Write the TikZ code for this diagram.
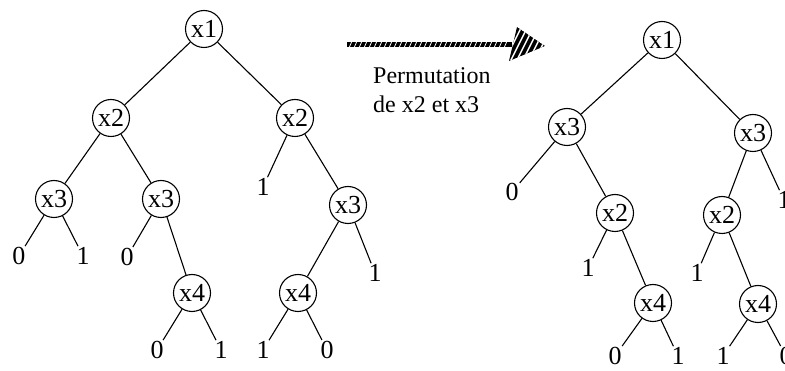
\documentclass[tikz,border=0pt]{standalone}
\usepackage{fontspec}
\setmainfont{Liberation Serif}
\begin{document}
\begin{tikzpicture}[x=1pt,y=-1pt,
  every node/.style={font=\fontsize{26}{30}\selectfont},
  var/.style={circle,draw,line width=1.1pt,inner sep=0pt,minimum size=37pt},
  leaf/.style={inner sep=1pt},
  edge/.style={line width=1.1pt},
  lbl/.style={anchor=west,inner sep=0pt,font=\fontsize{24}{28}\selectfont}]
\useasboundingbox (0,0) rectangle (785,371);
% left tree
\node[var] (L1) at (204,29) {x1};
\node[var] (La2) at (111,118) {x2};
\node[var] (Lb2) at (295,118) {x2};
\node[var] (La3) at (54,199) {x3};
\node[var] (Lc3) at (161,199) {x3};
\node[var] (Lb3) at (348,205) {x3};
\node[var] (La4) at (192,293) {x4};
\node[var] (Lb4) at (298,293) {x4};
\node[leaf] (l1) at (19,256) {0};
\node[leaf] (l2) at (83,256) {1};
\node[leaf] (l3) at (127,257) {0};
\node[leaf] (l4) at (157,350) {0};
\node[leaf] (l5) at (221,350) {1};
\node[leaf] (l6) at (263,187) {1};
\node[leaf] (l7) at (375,273) {1};
\node[leaf] (l8) at (263,350) {1};
\node[leaf] (l9) at (327,350) {0};
\draw[edge] (L1) -- (La2);
\draw[edge] (L1) -- (Lb2);
\draw[edge] (La2) -- (La3);
\draw[edge] (La2) -- (Lc3);
\draw[edge] (Lb2) -- (l6);
\draw[edge] (Lb2) -- (Lb3);
\draw[edge] (La3) -- (l1);
\draw[edge] (La3) -- (l2);
\draw[edge] (Lc3) -- (l3);
\draw[edge] (Lc3) -- (La4);
\draw[edge] (Lb3) -- (Lb4);
\draw[edge] (Lb3) -- (l7);
\draw[edge] (La4) -- (l4);
\draw[edge] (La4) -- (l5);
\draw[edge] (Lb4) -- (l8);
\draw[edge] (Lb4) -- (l9);
% arrow
\coordinate (aS) at (347,45);
\coordinate (aE) at (512,45);
\coordinate (aT) at (545,46);
\draw[line width=5pt] (aS) -- (aE);
\foreach \x in {349,354,...,508} {
  \draw[white,line width=0.8pt] (\x,48) -- (\x+2.6,42);
}
\begin{scope}
  \clip (517,27) -- (aT) -- (509,61) -- cycle;
  \fill (517,27) -- (aT) -- (509,61) -- cycle;
  \foreach \x in {490,496,...,548} {
    \draw[white,line width=1.5pt] (\x,66) -- (\x+22,22);
  }
\end{scope}
\node[lbl] (t1) at (373,76) {Permutation};
\node[lbl] (t2) at (373,104) {de x2 et x3};
% right tree
\node[var] (R1) at (662,40) {x1};
\node[var] (Ra3) at (567,127) {x3};
\node[var] (Rb3) at (753,133) {x3};
\node[var] (Ra2) at (615,213) {x2};
\node[var] (Rb2) at (722,215) {x2};
\node[var] (Ra4) at (653,303) {x4};
\node[var] (Rb4) at (758,304) {x4};
\node[leaf] (r1) at (512,192) {0};
\node[leaf] (r2) at (784,200) {1};
\node[leaf] (r3) at (588,268) {1};
\node[leaf] (r4) at (697,273) {1};
\node[leaf] (r5) at (615,356) {0};
\node[leaf] (r6) at (678,356) {1};
\node[leaf] (r7) at (723,356) {1};
\node[leaf] (r8) at (786,356) {0};
\draw[edge] (R1) -- (Ra3);
\draw[edge] (R1) -- (Rb3);
\draw[edge] (Ra3) -- (r1);
\draw[edge] (Ra3) -- (Ra2);
\draw[edge] (Rb3) -- (Rb2);
\draw[edge] (Rb3) -- (r2);
\draw[edge] (Ra2) -- (r3);
\draw[edge] (Ra2) -- (Ra4);
\draw[edge] (Rb2) -- (r4);
\draw[edge] (Rb2) -- (Rb4);
\draw[edge] (Ra4) -- (r5);
\draw[edge] (Ra4) -- (r6);
\draw[edge] (Rb4) -- (r7);
\draw[edge] (Rb4) -- (r8);
\end{tikzpicture}
\end{document}
